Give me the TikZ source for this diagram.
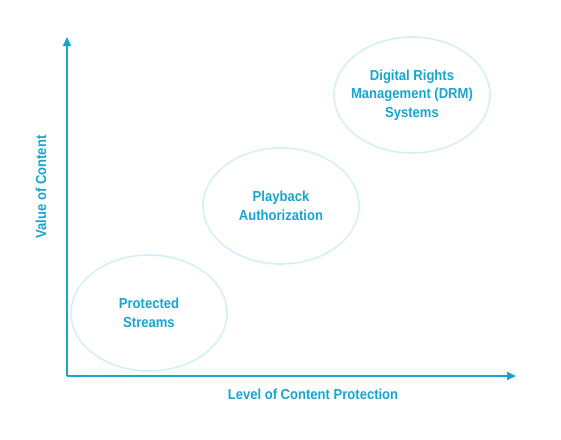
\documentclass[tikz,border=0pt]{standalone}
\usepackage{fontspec}
\setmainfont{Liberation Sans}[FakeStretch=0.9]
\usepackage{xcolor}
\usepackage{tikz}
\usetikzlibrary{positioning, shapes.geometric, arrows.meta}

\definecolor{axisblue}{HTML}{17A5CD}
\definecolor{ringblue}{HTML}{D6EFF6}

\begin{document}
\begin{tikzpicture}[x=1pt, y=-1pt,
    level/.style={ellipse, draw=ringblue, line width=1.6pt, minimum width=156pt, minimum height=116pt,
        inner sep=0pt, align=center, text=axisblue, font=\bfseries\fontsize{14.5}{18.4}\selectfont},
    axis/.style={draw=axisblue, line width=2pt, -{Triangle[length=9pt, width=8pt]}},
    axislabel/.style={text=axisblue, font=\bfseries\fontsize{14.5}{18.4}\selectfont}]

\useasboundingbox (0,0) rectangle (561,439);

% Axes
\coordinate (origin) at (67, 376);
\coordinate (ytop) at (67, 37);
\coordinate (xend) at (516, 376);
\draw[axis] (origin) -- (ytop);
\draw[axis] (origin) -- (xend);

\node[axislabel] (xlabel) at (313, 394) {Level of Content Protection};
\node[axislabel, rotate=90] (ylabel) at (41, 187) {Value of Content};

% Protection levels
\node[level] (streams) at (149, 313) {Protected\\Streams};
\node[level] (playback) at (281, 206) {Playback\\Authorization};
\node[level, inner xsep=-8pt] (drm) at (412, 95) {Digital Rights\\Management (DRM)\\Systems};

\end{tikzpicture}
\end{document}
